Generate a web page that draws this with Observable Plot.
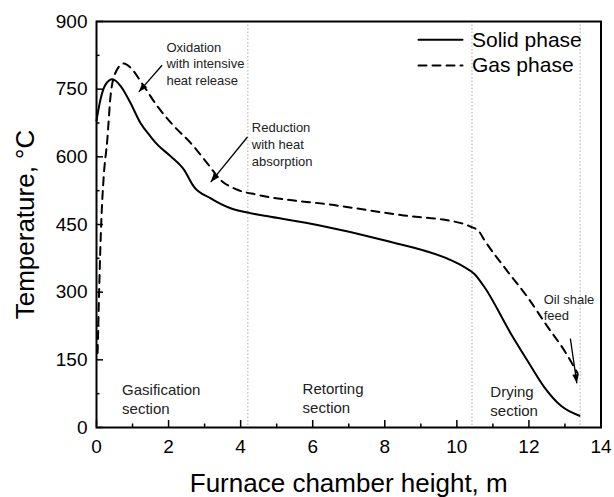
<!DOCTYPE html>
<html>
<head>
<meta charset="utf-8">
<script src="https://cdn.jsdelivr.net/npm/d3@7"></script>
<script src="https://cdn.jsdelivr.net/npm/@observablehq/plot@0.6"></script>
<style>
  html, body { margin: 0; padding: 0; background: white; }
</style>
</head>
<body>
<div id="chart"></div>
<script>
// ---------- data ----------
const xMajor = [0, 2, 4, 6, 8, 10, 12, 14];
const xMinor = [1, 3, 5, 7, 9, 11, 13];
const yMajor = [0, 150, 300, 450, 600, 750, 900];
const yMinor = [75, 225, 375, 525, 675, 825];

const solidX = [0, 0.11, 0.25, 0.44, 0.67, 0.94, 1.22, 1.5, 1.69, 2.06, 2.43, 2.7, 3.17, 3.72, 4.28, 4.83, 6.13, 7.98, 9.83, 10.2, 10.48, 10.76, 11.5, 11.96, 12.43, 12.89, 13.4];
const solidT = [680, 727, 760, 772, 757, 720, 675, 645, 627, 601, 571, 534, 508, 486, 475, 467, 449, 415, 371, 356, 341, 312, 208, 148, 89, 48, 26];

const gasX = [0.03, 0.06, 0.1, 0.14, 0.2, 0.3, 0.39, 0.53, 0.76, 0.94, 1.31, 1.69, 2.15, 2.61, 3.07, 3.44, 3.91, 4.46, 6.59, 8.44, 10.11, 10.39, 10.62, 10.76, 11.31, 11.96, 12.52, 12.98, 13.35];
const gasT = [165, 260, 380, 470, 556, 638, 735, 787, 807, 798, 757, 712, 668, 631, 586, 549, 527, 516, 493, 471, 453, 445, 434, 416, 356, 289, 223, 171, 120];

const sectionBounds = [4.2, 10.42, 13.42];
const sectionLabels = ["Gasification\nsection", "Retorting\nsection", "Drying\nsection"];
const sectionLabelX = [0.71, 5.72, 10.93];
const sectionLabelT = [65, 66, 60];

const noteLabels = ["Oxidation\nwith intensive\nheat release", "Reduction\nwith heat\nabsorption", "Oil shale\nfeed"];
const noteX = [1.94, 4.31, 12.41];
const noteT = [808, 630, 268];
const arrowX1 = [1.82, 4.19, 13.15];
const arrowT1 = [803, 644, 197];
const arrowX2 = [1.175, 3.17, 13.33];
const arrowT2 = [744, 544, 98];

const seriesNames = ["Solid phase", "Gas phase"];
const xTitle = "Furnace chamber height, m";
const yTitle = "Temperature, °C";

// ---------- build ----------
const W = 614, H = 497, mL = 96, mR = 13.5, mT = 21, mB = 70;
const innerW = W - mL - mR, innerH = H - mT - mB;
const solid = solidX.map((x, i) => ({x, t: solidT[i]}));
const gas = gasX.map((x, i) => ({x, t: gasT[i]}));
const arrows = arrowX1.map((x1, i) => ({x1, y1: arrowT1[i], x2: arrowX2[i], y2: arrowT2[i]}));
const dashes = [null, "8,6"];

const lineShape = {draw(ctx, l) { ctx.moveTo(0, 0); ctx.lineTo(0, -l); }};
const headSymbol = {draw(ctx) { ctx.moveTo(0, 0); ctx.lineTo(-3.3, 9); ctx.lineTo(3.3, 9); ctx.closePath(); }};
const annColor = "#222";

function build(angles) {
  const legendMarks = seriesNames.flatMap((name, i) => [
    Plot.vector([0], {frameAnchor: "top-right", dx: -182.5, dy: 18.3 + i * 25.7, length: 44, rotate: 90,
      anchor: "start", shape: lineShape, stroke: "black", strokeWidth: 2, strokeDasharray: dashes[i]}),
    Plot.text([name], {frameAnchor: "top-right", dx: -129, dy: 18.3 + i * 25.7, text: d => d,
      textAnchor: "start", lineAnchor: "middle", fontSize: 21, fill: "black"})
  ]);
  return Plot.plot({
    width: W, height: H,
    marginLeft: mL, marginRight: mR, marginTop: mT, marginBottom: mB,
    style: {fontFamily: "'Liberation Sans', Arial, sans-serif", background: "white", color: "black"},
    x: {domain: [0, 14]},
    y: {domain: [0, 900]},
    marks: [
      Plot.ruleX(sectionBounds, {x: d => d, stroke: "#aaa", strokeWidth: 1, strokeDasharray: "1.5,2"}),
      Plot.line(solid, {x: "x", y: "t", curve: "monotone-x", stroke: "black", strokeWidth: 2}),
      Plot.line(gas, {x: "x", y: "t", curve: "monotone-x", stroke: "black", strokeWidth: 2, strokeDasharray: "8,6"}),
      Plot.text(sectionLabels, {x: (d, i) => sectionLabelX[i], y: (d, i) => sectionLabelT[i], text: d => d,
        textAnchor: "start", lineAnchor: "middle", fontSize: 15, lineHeight: 1.27, fill: annColor}),
      Plot.text(noteLabels, {x: (d, i) => noteX[i], y: (d, i) => noteT[i], text: d => d,
        textAnchor: "start", lineAnchor: "middle", fontSize: 13, lineHeight: 1.3, fill: annColor}),
      Plot.link(arrows, {x1: "x1", y1: "y1", x2: "x2", y2: "y2", stroke: "black", strokeWidth: 1.3}),
      angles ? Plot.dot(arrows, {x: "x2", y: "y2", r: 4, symbol: headSymbol, rotate: (d, i) => angles[i], fill: "black", stroke: "none"}) : null,
      ...legendMarks,
      Plot.ruleX(xMajor, {x: d => d, insetTop: innerH - 7, stroke: "black", strokeWidth: 1.5}),
      Plot.ruleX(xMinor, {x: d => d, insetTop: innerH - 3.5, stroke: "black", strokeWidth: 1.5}),
      Plot.ruleY(yMajor, {y: d => d, insetRight: innerW - 7, stroke: "black", strokeWidth: 1.5}),
      Plot.ruleY(yMinor, {y: d => d, insetRight: innerW - 3.5, stroke: "black", strokeWidth: 1.5}),
      Plot.axisX({ticks: xMajor, tickSize: 0, tickPadding: 12, fontSize: 19, label: null, tickFormat: d => String(d)}),
      Plot.axisY({ticks: yMajor, tickSize: 0, tickPadding: 9, fontSize: 19, label: null, tickFormat: d => String(d)}),
      Plot.text([xTitle], {frameAnchor: "bottom", dy: 56, text: d => d, textAnchor: "middle", lineAnchor: "middle", fontSize: 26, fill: "black"}),
      Plot.text([yTitle], {frameAnchor: "left", dx: -71, rotate: -90, text: d => d, textAnchor: "middle", lineAnchor: "middle", fontSize: 26, fill: "black"}),
      Plot.frame({stroke: "black", strokeWidth: 2})
    ]
  });
}

const probe = build(null);
const sx = probe.scale("x"), sy = probe.scale("y");
const angles = arrows.map(a => {
  const dx = sx.apply(a.x2) - sx.apply(a.x1);
  const dy = sy.apply(a.y2) - sy.apply(a.y1);
  return Math.atan2(dx, -dy) * 180 / Math.PI;
});
document.getElementById("chart").appendChild(build(angles));
</script>
</body>
</html>
